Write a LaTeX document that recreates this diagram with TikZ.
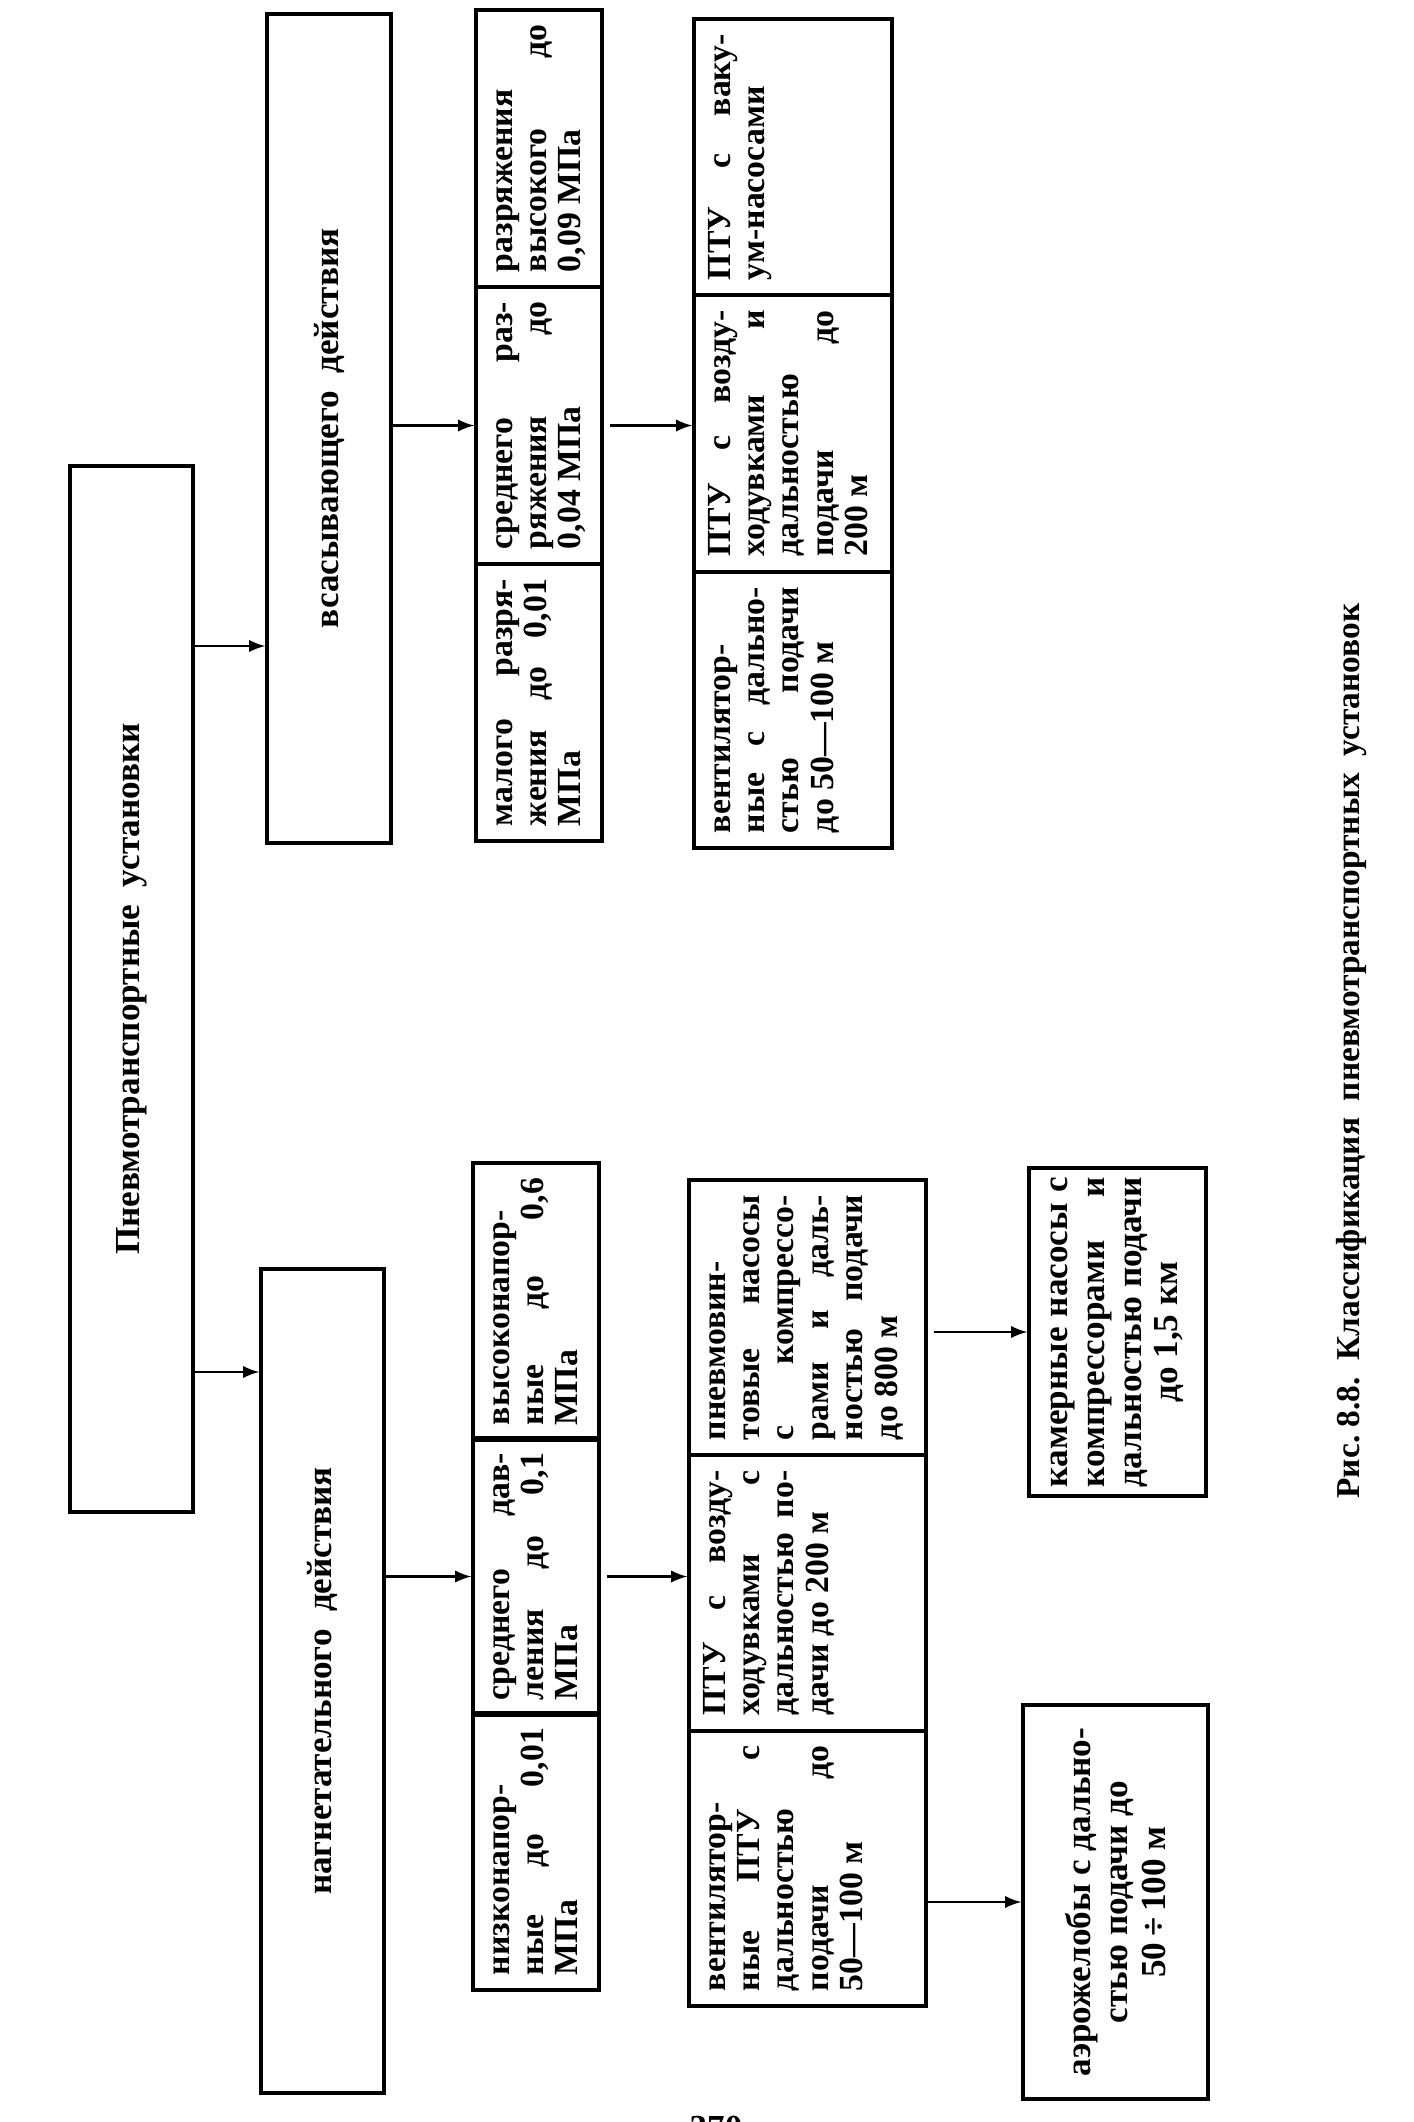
\documentclass[tikz,border=0pt]{standalone}
\usepackage{fontspec}
\setmainfont{Liberation Serif}
\usetikzlibrary{positioning,calc,arrows}

\begin{document}
\begin{tikzpicture}[x=0.1mm, y=-0.1mm, >=latex,
	box/.style={draw, line width=1pt, rotate=90, inner sep=0pt, align=center, font=\bfseries\fontsize{10}{12}\selectfont},
	cell/.style={draw, line width=1pt, rotate=90, inner xsep=1.5mm, inner ysep=1mm, text height=2.6mm, align=justify, font=\bfseries\fontsize{9.6}{9.8}\selectfont},
	rowa/.style={cell, text width=24.7mm, text depth=8mm},
	rowb/.style={cell, text width=24.6mm, text depth=15.2mm},
	rowc/.style={cell, text width=24.5mm, text depth=19.1mm}]
	\path[use as bounding box, fill=white] (0,0) rectangle (1414,2122);

	\node[box, minimum width=104.6mm, minimum height=12.3mm] (main) at (131.5,989) {Пневмотранспортные\ \ установки};
	\node[box, minimum width=82.9mm, minimum height=12.4mm] (suct) at (329,428.5) {всасывающего\ \ действия};
	\node[box, minimum width=82.4mm, minimum height=12.3mm] (press) at (322.5,1681) {нагнетательного\ \ действия};

	\node[rowa] (s13) at (539,148.5) {разряжения\linebreak высокого до\linebreak 0,09 МПа};
	\node[rowa] (s12) at (539,425.5) {среднего раз-\linebreak ряжения до\linebreak 0,04 МПа};
	\node[rowa] (s11) at (539,702.5) {малого разря-\linebreak жения до 0,01\linebreak МПа};
	\node[rowb] (s23) at (793,157) {ПТУ с ваку-\linebreak ум-насосами};
	\node[rowb] (s22) at (793,433.5) {ПТУ с возду-\linebreak ходувками и\linebreak дальностью\linebreak подачи до\linebreak 200 м};
	\node[rowb] (s21) at (793,710) {вентилятор-\linebreak ные с дально-\linebreak стью подачи\linebreak до 50—100 м};

	\node[rowa] (p13) at (536,1301.5) {высоконапор-\linebreak ные до 0,6\linebreak МПа};
	\node[rowa] (p12) at (536,1576.5) {среднего дав-\linebreak ления до 0,1\linebreak МПа};
	\node[rowa] (p11) at (536,1851.5) {низконапор-\linebreak ные до 0,01\linebreak МПа};
	\node[rowc] (p23) at (807.5,1317.5) {пневмовин-\linebreak товые насосы\linebreak с компрессо-\linebreak рами и даль-\linebreak ностью подачи\linebreak до 800 м};
	\node[rowc] (p22) at (807.5,1593) {ПТУ с возду-\linebreak ходувками с\linebreak дальностью по-\linebreak дачи до 200 м};
	\node[rowc] (p21) at (807.5,1868.5) {вентилятор-\linebreak ные ПТУ с\linebreak дальностью\linebreak подачи до\linebreak 50—100 м};

	\node[box, font=\bfseries\fontsize{10}{10.4}\selectfont, align=justify, text width=31mm, minimum width=32.8mm, minimum height=17.7mm] (kam) at (1117.5,1332) {камерные насосы с\linebreak компрессорами и\linebreak дальностью подачи\linebreak \hbox to \hsize{\hfil до 1,5 км\hfil}};
	\node[box, font=\bfseries\fontsize{10}{10.6}\selectfont, minimum width=39.4mm, minimum height=18.5mm] (aero) at (1115.5,1902) {аэрожелобы с дально-\\ стью подачи до\\ 50\,÷\,100 м};

	\node[rotate=90, font=\bfseries\fontsize{9.5}{12}\selectfont] (cap) at (1352,1051) {Рис.\ 8.8.\ \ Классификация\ \ пневмотранспортных\ \ установок};
	\node[anchor=north, font=\bfseries\fontsize{10}{12}\selectfont] (num) at (716,2104) {370};

	\coordinate (ys) at (0,646);
	\coordinate (yp) at (0,1372);
	\draw[->, line width=0.6pt] (main.south |- ys) -- (suct.north |- ys);
	\draw[->, line width=0.6pt] (main.south |- yp) -- (press.north |- yp);
	\draw[->, line width=0.6pt] (suct.south |- s12.north) -- (s12.north);
	\draw[->, line width=0.6pt, shorten <=0.6mm] (s12.south) -- (s12.south -| s22.north);
	\draw[->, line width=0.6pt] (press.south |- p12.north) -- (p12.north);
	\draw[->, line width=0.6pt, shorten <=0.6mm] (p12.south) -- (p12.south -| p22.north);
	\draw[->, line width=0.6pt, shorten <=0.6mm] (p23.south |- kam.north) -- (kam.north);
	\draw[->, line width=0.6pt] (p21.south |- aero.north) -- (aero.north);
\end{tikzpicture}
\end{document}
